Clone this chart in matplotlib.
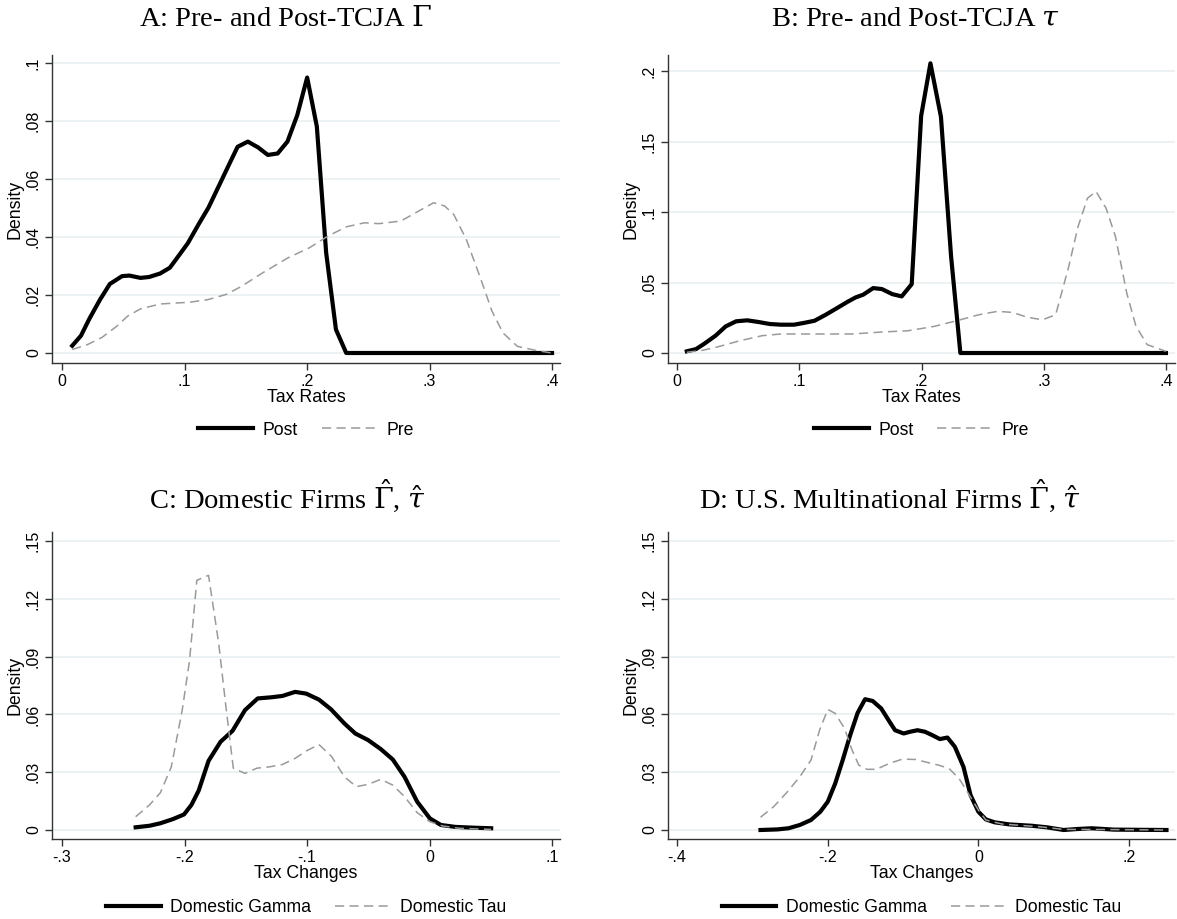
import matplotlib
matplotlib.use("Agg")
import matplotlib.pyplot as plt

# ---- panel A: Gamma, pre vs post TCJA
a_post_x = [0.0083, 0.0155, 0.0223, 0.031, 0.039, 0.049, 0.055, 0.064, 0.071, 0.080, 0.088, 0.095,
            0.1026, 0.1115, 0.1195, 0.128, 0.136, 0.1433, 0.1517, 0.160, 0.168, 0.176, 0.184, 0.192,
            0.2001, 0.208, 0.2156, 0.2236, 0.232, 0.30, 0.40]
a_post_y = [0.0025, 0.006, 0.0118, 0.0184, 0.0238, 0.0265, 0.0267, 0.0259, 0.0262, 0.0274, 0.0294, 0.0334,
            0.0378, 0.0444, 0.0501, 0.0576, 0.0647, 0.0711, 0.0729, 0.0709, 0.0683, 0.0688, 0.0729, 0.082,
            0.095, 0.0781, 0.0346, 0.0081, 0.0, 0.0, 0.0]
a_pre_x = [0.0083, 0.0208, 0.0327, 0.0446, 0.0535, 0.064, 0.080, 0.104, 0.119, 0.134, 0.1457, 0.1636,
           0.1844, 0.202, 0.217, 0.232, 0.2468, 0.2587, 0.2766, 0.2914, 0.3033, 0.3123, 0.3197, 0.330,
           0.342, 0.351, 0.360, 0.3717, 0.3866, 0.40]
a_pre_y = [0.0012, 0.0029, 0.0054, 0.0092, 0.0127, 0.0152, 0.0169, 0.0175, 0.0184, 0.0202, 0.0228, 0.0276,
           0.0328, 0.0363, 0.0403, 0.0435, 0.0449, 0.0446, 0.0455, 0.049, 0.0518, 0.0507, 0.0478, 0.0392,
           0.0253, 0.0144, 0.0069, 0.0023, 0.0009, 0.0]

# ---- panel B: tau, pre vs post TCJA
b_post_x = [0.008, 0.0156, 0.0223, 0.0315, 0.0398, 0.0483, 0.0575, 0.0667, 0.0758, 0.085, 0.0957, 0.1034,
            0.1125, 0.1217, 0.1309, 0.14, 0.1462, 0.1523, 0.1605, 0.1676, 0.1761, 0.1838, 0.192, 0.1997,
            0.2073, 0.2159, 0.2242, 0.2318, 0.30, 0.40]
b_post_y = [0.0012, 0.0028, 0.0066, 0.0123, 0.0189, 0.0225, 0.0232, 0.022, 0.0206, 0.0201, 0.0201, 0.0213,
            0.0229, 0.0272, 0.0319, 0.0366, 0.0395, 0.0414, 0.0461, 0.0454, 0.0418, 0.0402, 0.0489, 0.1683,
            0.2057, 0.1678, 0.0686, 0.0, 0.0, 0.0]
b_pre_x = [0.008, 0.0208, 0.033, 0.0514, 0.0697, 0.085, 0.1064, 0.143, 0.1676, 0.189, 0.2104, 0.2287,
           0.2471, 0.2624, 0.2746, 0.2869, 0.2991, 0.3098, 0.3205, 0.3281, 0.3358, 0.3428, 0.351, 0.3587,
           0.3679, 0.3755, 0.3847, 0.40]
b_pre_y = [0.0005, 0.0019, 0.0043, 0.0087, 0.0123, 0.0135, 0.0135, 0.0135, 0.0149, 0.0158, 0.0189, 0.0229,
           0.0272, 0.0296, 0.0288, 0.0253, 0.0236, 0.0272, 0.0615, 0.0898, 0.1099, 0.1147, 0.1028, 0.0827,
           0.0426, 0.0189, 0.0059, 0.0012]

# ---- panel C: domestic firms, tax changes
c_gam_x = [-0.2399, -0.2286, -0.2197, -0.2093, -0.2004, -0.1944, -0.1885, -0.1804, -0.1706, -0.1608,
           -0.1507, -0.1403, -0.129, -0.1201, -0.1097, -0.1007, -0.0903, -0.0805, -0.0695, -0.0606,
           -0.0502, -0.0398, -0.03, -0.0204, -0.0101, 0.0003, 0.0093, 0.0212, 0.036, 0.0503]
c_gam_y = [0.0014, 0.0022, 0.0035, 0.0057, 0.0081, 0.013, 0.0204, 0.0359, 0.0458, 0.0515,
           0.0622, 0.0683, 0.0689, 0.0696, 0.0717, 0.0708, 0.0677, 0.0627, 0.0553, 0.0501,
           0.0467, 0.042, 0.0366, 0.0276, 0.0147, 0.006, 0.0026, 0.0016, 0.0012, 0.0009]
c_tau_x = [-0.2399, -0.2286, -0.2197, -0.2108, -0.2019, -0.1959, -0.19, -0.1804, -0.1721, -0.1662,
           -0.1602, -0.1507, -0.1409, -0.1305, -0.1201, -0.1097, -0.1007, -0.0903, -0.0799, -0.0695,
           -0.0597, -0.0502, -0.0398, -0.03, -0.0204, -0.0101, 0.0003, 0.0107, 0.024, 0.0503]
c_tau_y = [0.0069, 0.013, 0.0194, 0.0328, 0.0622, 0.0881, 0.1296, 0.1322, 0.0968, 0.0639,
           0.0321, 0.0294, 0.0321, 0.0328, 0.034, 0.0372, 0.041, 0.0444, 0.0381, 0.0276,
           0.0225, 0.0237, 0.0263, 0.0233, 0.0173, 0.009, 0.0043, 0.0021, 0.0009, 0.0003]

# ---- panel D: US multinationals, tax changes
d_gam_x = [-0.2892, -0.2669, -0.252, -0.2371, -0.2222, -0.2098, -0.1999, -0.19, -0.1801, -0.1702,
           -0.1603, -0.1504, -0.1404, -0.129, -0.1179, -0.1106, -0.0992, -0.0907, -0.0808, -0.0709,
           -0.061, -0.0511, -0.0411, -0.0312, -0.0198, -0.0104, 0.0, 0.0099, 0.0214, 0.0412,
           0.071, 0.0909, 0.1132, 0.1306, 0.1503, 0.18, 0.2497]
d_gam_y = [0.0, 0.0003, 0.0009, 0.0026, 0.0052, 0.0095, 0.0147, 0.0242, 0.0363, 0.0492,
           0.0608, 0.0679, 0.067, 0.0631, 0.0562, 0.0518, 0.0501, 0.051, 0.0518, 0.051,
           0.0492, 0.0472, 0.048, 0.0432, 0.0328, 0.0181, 0.0095, 0.0055, 0.004, 0.0029,
           0.0022, 0.0014, 0.0, 0.0005, 0.0009, 0.0002, 0.0]
d_tau_x = [-0.2892, -0.2718, -0.2545, -0.2371, -0.2222, -0.2108, -0.1999, -0.19, -0.1776, -0.1677,
           -0.1588, -0.1479, -0.1354, -0.1181, -0.1007, -0.0833, -0.068, -0.0531, -0.0392, -0.0258,
           -0.0134, 0.0, 0.0099, 0.0313, 0.081, 0.1132, 0.1503, 0.2497]
d_tau_y = [0.0066, 0.0121, 0.0194, 0.0276, 0.0363, 0.0518, 0.0626, 0.0605, 0.0527, 0.0415,
           0.0337, 0.0315, 0.0315, 0.0346, 0.0368, 0.0366, 0.0351, 0.0337, 0.032, 0.0268,
           0.019, 0.0104, 0.0052, 0.0031, 0.0017, 0.0003, 0.0003, 0.0]

titles = ["A: Pre- and Post-TCJA $\\Gamma$", "B: Pre- and Post-TCJA $\\tau$",
          "C: Domestic Firms $\\hat{\\Gamma}$, $\\hat{\\tau}$",
          "D: U.S. Multinational Firms $\\hat{\\Gamma}$, $\\hat{\\tau}$"]

plt.rcParams["font.family"] = ["Liberation Sans", "DejaVu Sans"]
plt.rcParams["mathtext.fontset"] = "dejavuserif"

fig = plt.figure(figsize=(11.77, 9.19), dpi=100)

W, H = 1177.0, 919.0
def axes_px(l, r, t, b):
    return fig.add_axes([l / W, 1 - b / H, (r - l) / W, (b - t) / H])

axA = axes_px(52, 560, 55, 363)
axB = axes_px(668, 1175, 55, 363)
axC = axes_px(52, 560, 532, 839)
axD = axes_px(668, 1175, 532, 839)

solid = dict(color="black", lw=3.0, solid_joinstyle="round")
dashed = dict(color="#9a9a9a", lw=1.1, dashes=(6, 3.5))

axA.plot(a_post_x, a_post_y, label="Post", **solid)
axA.plot(a_pre_x, a_pre_y, label="Pre", **dashed)
axB.plot(b_post_x, b_post_y, label="Post", **solid)
axB.plot(b_pre_x, b_pre_y, label="Pre", **dashed)
axC.plot(c_gam_x, c_gam_y, label="Domestic Gamma", **solid)
axC.plot(c_tau_x, c_tau_y, label="Domestic Tau", **dashed)
axD.plot(d_gam_x, d_gam_y, label="Domestic Gamma", **solid)
axD.plot(d_tau_x, d_tau_y, label="Domestic Tau", **dashed)

def fmt(v):
    s = ("%g" % round(v, 4))
    if s.startswith("0."):
        s = s[1:]
    elif s.startswith("-0."):
        s = "-" + s[2:]
    return s

setup = [
    (axA, (-0.0082, 0.4065), [0, 0.1, 0.2, 0.3, 0.4], (-0.00345, 0.10276), [0, 0.02, 0.04, 0.06, 0.08, 0.1], "Tax Rates", 430),
    (axB, (-0.0074, 0.4074), [0, 0.1, 0.2, 0.3, 0.4], (-0.0071, 0.2116), [0, 0.05, 0.1, 0.15, 0.2], "Tax Rates", 430),
    (axC, (-0.3082, 0.1065), [-0.3, -0.2, -0.1, 0, 0.1], (-0.00467, 0.1547), [0, 0.03, 0.06, 0.09, 0.12, 0.15], "Tax Changes", 908),
    (axD, (-0.412, 0.261), [-0.4, -0.2, 0, 0.2], (-0.00467, 0.1547), [0, 0.03, 0.06, 0.09, 0.12, 0.15], "Tax Changes", 908),
]

for ax, xl, xt, yl, yt, xlab, leg_y in setup:
    ax.set_xlim(*xl)
    ax.set_ylim(*yl)
    ax.set_xticks(xt)
    ax.set_xticklabels([fmt(v) for v in xt])
    ax.set_yticks(yt)
    ax.set_yticklabels([fmt(v) for v in yt], rotation=90, va="center")
    ax.grid(axis="y", color="#eaf1f3", lw=1.3)
    ax.set_axisbelow(True)
    for s in ["top", "right"]:
        ax.spines[s].set_visible(False)
    for s in ["left", "bottom"]:
        ax.spines[s].set_color("#333333")
        ax.spines[s].set_linewidth(1.0)
    ax.tick_params(direction="out", length=5, width=1.0, color="#333333",
                   labelsize=11.5, pad=3)
    ax.set_xlabel(xlab, fontsize=12.8, labelpad=0)
    ax.set_ylabel("Density", fontsize=12.8, labelpad=2)
    # legend centred under each panel, placed in figure pixels
    pos = ax.get_position()
    ax.legend(loc="center", bbox_to_anchor=((pos.x0 + pos.x1) / 2, 1 - leg_y / H),
              bbox_transform=fig.transFigure, ncol=2, frameon=False,
              fontsize=12.7, handlelength=3.1, columnspacing=1.35, handletextpad=0.55,
              borderpad=0.1)

title_pos = [(285, 19), (915, 19), (287, 496), (890, 496)]
for (tx, ty), t in zip(title_pos, titles):
    fig.text(tx / W, 1 - ty / H, t, family=["Liberation Serif", "DejaVu Serif"],
             fontsize=20.5, ha="center", va="center")

fig.savefig("out.png", dpi=100)
